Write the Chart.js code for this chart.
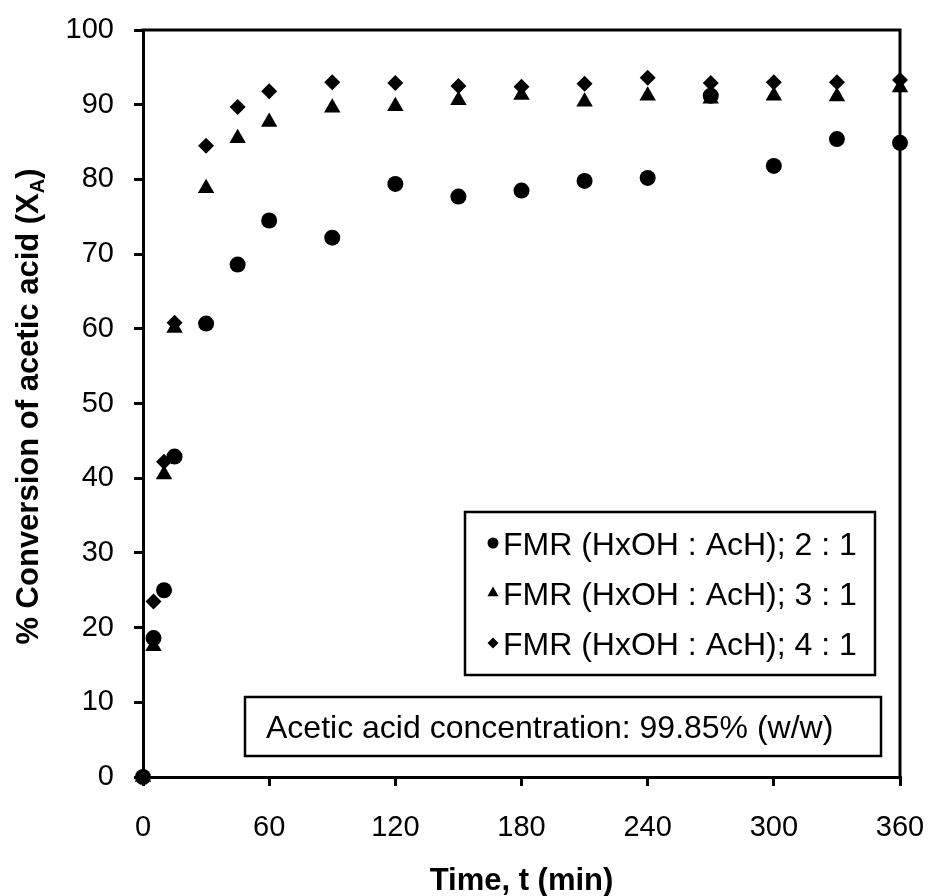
<!DOCTYPE html>
<html>
<head>
<meta charset="utf-8">
<script src="https://cdn.jsdelivr.net/npm/chart.js@4.4.1/dist/chart.umd.min.js"></script>
<style>
  html, body { margin: 0; padding: 0; background: #fff; }
  #wrap { width: 929px; height: 896px; }
</style>
</head>
<body>
<div id="wrap"><canvas id="myChart" width="929" height="896"></canvas></div>
<script>
// reaction time (min)
const times = [0, 5, 10, 15, 30, 45, 60, 90, 120, 150, 180, 210, 240, 270, 300, 330, 360];
// % conversion of acetic acid for each feed molar ratio
const ratio2 = [0, 18.6, 25.0, 42.9, 60.7, 68.6, 74.5, 72.2, 79.4, 77.7, 78.5, 79.8, 80.2, 91.2, 81.8, 85.4, 84.9];
const ratio3 = [0, 17.5, 40.5, 60.1, 78.8, 85.5, 87.7, 89.6, 89.8, 90.6, 91.3, 90.4, 91.2, 90.8, 91.2, 91.1, 92.3];
const ratio4 = [0, 23.5, 42.2, 60.8, 84.5, 89.7, 91.8, 93.0, 92.9, 92.5, 92.4, 92.8, 93.6, 92.9, 93.0, 93.0, 93.3];
const seriesNames = ['FMR (HxOH : AcH); 2 : 1', 'FMR (HxOH : AcH); 3 : 1', 'FMR (HxOH : AcH); 4 : 1'];
const xTickStep = 60;
const yTickStep = 10;
const noteText = 'Acetic acid concentration: 99.85% (w/w)';

const FONT = '"Liberation Sans", Arial, sans-serif';

function toPoints(values) {
  return times.map((t, i) => ({ x: t, y: values[i] }));
}

const pointStyles = ['circle', 'triangle', 'rectRot'];
const pointSizes = [8, 9.5, 8];
const legendSizes = [5.5, 6.5, 5.5];

const datasets = [ratio2, ratio3, ratio4].map((values, i) => ({
  label: seriesNames[i],
  data: toPoints(values),
  pointStyle: pointStyles[i],
  pointRadius: pointSizes[i],
  pointHoverRadius: pointSizes[i],
  backgroundColor: '#000',
  borderColor: '#000',
  borderWidth: 0,
  showLine: false,
  clip: false,
}));

function drawMarker(ctx, style, r, x, y) {
  ctx.save();
  ctx.fillStyle = '#000';
  ctx.strokeStyle = '#000';
  Chart.helpers.drawPoint(ctx, { pointStyle: style, radius: r, rotation: 0, borderWidth: 0 }, x, y);
  ctx.restore();
}

const framePlugin = {
  id: 'frame',
  beforeDatasetsDraw(chart) {
    const { ctx, chartArea: a } = chart;
    ctx.save();
    ctx.strokeStyle = '#000';
    ctx.lineWidth = 3;
    ctx.lineCap = 'square';
    ctx.beginPath();
    ctx.moveTo(a.left, a.top);
    ctx.lineTo(a.right, a.top);
    ctx.lineTo(a.right, a.bottom);
    ctx.stroke();
    ctx.restore();
  },
};

const labelsPlugin = {
  id: 'labels',
  afterDraw(chart) {
    const { ctx, chartArea: a } = chart;
    ctx.save();
    ctx.fillStyle = '#000';
    ctx.strokeStyle = '#000';

    // x title
    ctx.font = 'bold 31px ' + FONT;
    ctx.textAlign = 'center';
    ctx.textBaseline = 'alphabetic';
    ctx.fillText('Time, t (min)', (a.left + a.right) / 2, 890);

    // y title with subscript
    const main = '% Conversion of acetic acid (X';
    const sub = 'A';
    const tail = ')';
    ctx.save();
    ctx.translate(27, (a.top + a.bottom) / 2 + 3);
    ctx.rotate(-Math.PI / 2);
    ctx.textAlign = 'left';
    ctx.font = 'bold 31px ' + FONT;
    const wMain = ctx.measureText(main).width;
    const wTail = ctx.measureText(tail).width;
    ctx.font = 'bold 20px ' + FONT;
    const wSub = ctx.measureText(sub).width;
    const x0 = -(wMain + wSub + wTail) / 2;
    ctx.font = 'bold 31px ' + FONT;
    ctx.fillText(main, x0, 11);
    ctx.font = 'bold 20px ' + FONT;
    ctx.fillText(sub, x0 + wMain, 17);
    ctx.font = 'bold 31px ' + FONT;
    ctx.fillText(tail, x0 + wMain + wSub, 11);
    ctx.restore();

    // legend box
    ctx.lineWidth = 2.5;
    ctx.fillStyle = '#fff';
    ctx.fillRect(465, 512, 410, 163);
    ctx.strokeRect(465, 512, 410, 163);
    ctx.fillStyle = '#000';
    ctx.font = '32px ' + FONT;
    ctx.textAlign = 'left';
    ctx.textBaseline = 'alphabetic';
    const rows = [543, 593, 643];
    chart.data.datasets.forEach((ds, i) => {
      drawMarker(ctx, ds.pointStyle, legendSizes[i], 493, rows[i]);
      ctx.fillText(ds.label, 503, rows[i] + 11.5);
    });

    // note box
    ctx.fillStyle = '#fff';
    ctx.fillRect(245, 697, 636, 59);
    ctx.strokeRect(245, 697, 636, 59);
    ctx.fillStyle = '#000';
    ctx.fillText(noteText, 266, 738);
    ctx.restore();
  },
};

const tickGrid = {
  drawOnChartArea: false,
  drawTicks: true,
  tickLength: 9,
  tickWidth: 3,
  tickColor: '#000',
  color: '#000',
  lineWidth: 3,
};

const chart = new Chart(document.getElementById('myChart'), {
  type: 'scatter',
  data: { datasets },
  options: {
    responsive: false,
    devicePixelRatio: 1,
    animation: false,
    events: [],
    layout: {
      padding: { top: 30, right: 29, left: 0, bottom: 0 },
    },
    scales: {
      x: {
        type: 'linear',
        min: 0,
        max: 360,
        ticks: {
          stepSize: xTickStep,
          color: '#000',
          padding: 25,
          font: { family: FONT, size: 29 },
        },
        grid: tickGrid,
        border: { display: true, color: '#000', width: 3 },
        afterFit(scale) {
          scale.height = 119;
          scale.paddingLeft = 0;
          scale.paddingRight = 0;
        },
      },
      y: {
        type: 'linear',
        min: 0,
        max: 100,
        ticks: {
          stepSize: yTickStep,
          color: '#000',
          padding: 20,
          font: { family: FONT, size: 29 },
        },
        grid: tickGrid,
        border: { display: true, color: '#000', width: 3 },
        afterFit(scale) {
          scale.width = 143;
          scale.paddingTop = 0;
          scale.paddingBottom = 0;
        },
      },
    },
    plugins: {
      legend: { display: false },
      tooltip: { enabled: false },
    },
  },
  plugins: [framePlugin, labelsPlugin],
});
</script>
</body>
</html>
